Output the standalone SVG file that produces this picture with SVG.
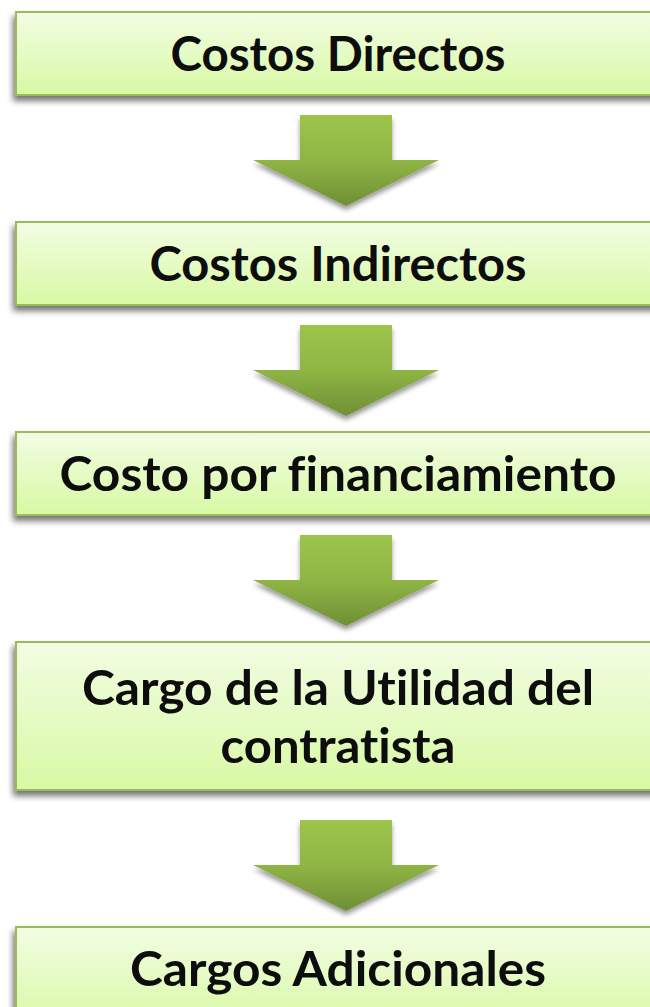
<svg xmlns="http://www.w3.org/2000/svg" width="650" height="1007" viewBox="0 0 650 1007">
<defs>
<linearGradient id="boxg" x1="0" y1="0" x2="0" y2="1">
<stop offset="0" stop-color="#f2fde4"/>
<stop offset="1" stop-color="#d8f9a4"/>
</linearGradient>
<linearGradient id="arrg" x1="0" y1="0" x2="0" y2="1">
<stop offset="0" stop-color="#9dc54b"/>
<stop offset="0.5" stop-color="#8fb544"/>
<stop offset="1" stop-color="#6f8f35"/>
</linearGradient>
<filter id="sh" x="-10%" y="-20%" width="120%" height="150%">
<feGaussianBlur in="SourceAlpha" stdDeviation="3"/>
<feOffset dx="-2" dy="5" result="b"/>
<feComponentTransfer><feFuncA type="linear" slope="0.55"/></feComponentTransfer>
<feMerge><feMergeNode/><feMergeNode in="SourceGraphic"/></feMerge>
</filter>
<filter id="ash" x="-20%" y="-20%" width="140%" height="150%">
<feGaussianBlur in="SourceAlpha" stdDeviation="2.5"/>
<feOffset dx="0" dy="4" result="b"/>
<feComponentTransfer><feFuncA type="linear" slope="0.4"/></feComponentTransfer>
<feMerge><feMergeNode/><feMergeNode in="SourceGraphic"/></feMerge>
</filter>
<path id="arrow" d="M300 0 H392 V45 H439 L346 91 L253 45 H300 Z"/>
</defs>
<style>
.box{fill:url(#boxg);stroke:#9bbb59;stroke-width:2}
.lbl{font-family:Lato,"Open Sans",sans-serif;font-weight:bold;font-size:47px;fill:#0d0d0d;text-anchor:middle;font-variant-ligatures:none;font-feature-settings:"liga" 0}
.arr{fill:url(#arrg)}
</style>
<g id="connectors">
<use href="#arrow" class="arr" filter="url(#ash)" transform="translate(0,115)"/>
<use href="#arrow" class="arr" filter="url(#ash)" transform="translate(0,325)"/>
<use href="#arrow" class="arr" filter="url(#ash)" transform="translate(0,535)"/>
<use href="#arrow" class="arr" filter="url(#ash)" transform="translate(0,820)"/>
</g>
<g id="n1">
<rect class="box" x="16" y="12" width="650" height="83" filter="url(#sh)"/>
<text class="lbl" x="338" y="71" textLength="335" lengthAdjust="spacingAndGlyphs">Costos Directos</text>
</g>
<g id="n2">
<rect class="box" x="16" y="222" width="650" height="83" filter="url(#sh)"/>
<text class="lbl" x="338" y="281" textLength="377" lengthAdjust="spacingAndGlyphs">Costos Indirectos</text>
</g>
<g id="n3">
<rect class="box" x="16" y="432" width="650" height="83" filter="url(#sh)"/>
<text class="lbl" x="338" y="491" textLength="557" lengthAdjust="spacingAndGlyphs">Costo por financiamiento</text>
</g>
<g id="n4">
<rect class="box" x="16" y="642" width="650" height="148" filter="url(#sh)"/>
<text class="lbl" x="338" y="705" textLength="512" lengthAdjust="spacingAndGlyphs">Cargo de la Utilidad del</text>
<text class="lbl" x="338" y="763" textLength="235" lengthAdjust="spacingAndGlyphs">contratista</text>
</g>
<g id="n5">
<rect class="box" x="16" y="927" width="650" height="100" filter="url(#sh)"/>
<text class="lbl" x="338" y="986" textLength="416" lengthAdjust="spacingAndGlyphs">Cargos Adicionales</text>
</g>
</svg>
